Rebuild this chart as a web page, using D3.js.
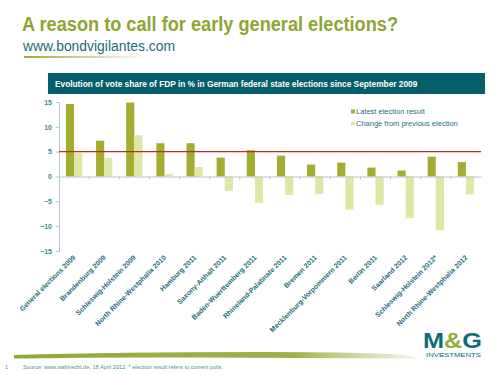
<!DOCTYPE html>
<html>
<head>
<meta charset="utf-8">
<script src="https://cdn.jsdelivr.net/npm/d3@7"></script>
<style>
  body { margin: 0; background: #fff; }
  svg { font-family: Arial, "Liberation Sans", sans-serif; }
</style>
</head>
<body>
<div class="chart"></div>
<script>
// data
const elections = ["General elections 2009", "Brandenburg 2009", "Schleswig-Holstein 2009",
    "North Rhine-Westphalia 2010", "Hamburg 2011", "Saxony-Anhalt 2011", "Baden-Wuerttemberg 2011",
    "Rhineland-Palatinate 2011", "Bremen 2011", "Mecklenburg-Vorpommern 2011", "Berlin 2011",
    "Saarland 2012", "Schleswig-Holstein 2012*", "North Rhine-Westphalia 2012"];
const latestResult = [14.6, 7.2, 14.9, 6.7, 6.7, 3.8, 5.3, 4.2, 2.4, 2.8, 1.8, 1.2, 4.0, 2.9];
const changePrev = [4.8, 3.8, 8.3, 0.5, 1.9, -2.9, -5.3, -3.7, -3.5, -6.7, -5.7, -8.4, -10.8, -3.6];
const yTicks = [15, 10, 5, 0, -5, -10, -15];
const threshold = 5;   // 5% hurdle line

const series = [
    {name: "Latest election result", values: latestResult, color: "#a3ae30"},
    {name: "Change from previous election", values: changePrev, color: "#dfe6a6"}
];

const width = 500;
const height = 375;
const margin = {top: 102, right: 19, bottom: 124, left: 59};
const teal = "#1f6f7c";

const svg = d3.select(".chart")
    .append("svg")
    .attr("width", width)
    .attr("height", height);

// title block
svg.append("text")
    .attr("x", 22).attr("y", 31)
    .attr("fill", "#8ea534")
    .attr("textLength", 376)
    .attr("lengthAdjust", "spacingAndGlyphs")
    .style("font-size", "20px")
    .style("font-weight", "bold")
    .text("A reason to call for early general elections?");

svg.append("text")
    .attr("x", 23).attr("y", 51)
    .attr("fill", "#1d6b78")
    .attr("textLength", 152)
    .attr("lengthAdjust", "spacingAndGlyphs")
    .style("font-size", "14px")
    .text("www.bondvigilantes.com");

const defs = svg.append("defs");
const fade = defs.append("linearGradient").attr("id", "fade");
fade.append("stop").attr("offset", "0%").attr("stop-color", "#9cae3c");
fade.append("stop").attr("offset", "100%").attr("stop-color", "#9cae3c").attr("stop-opacity", 0);
svg.append("rect")
    .attr("x", 24).attr("y", 56).attr("width", 125).attr("height", 2)
    .attr("fill", "url(#fade)");

// header bar
svg.append("rect")
    .attr("x", 48).attr("y", 73).attr("width", 437).attr("height", 21)
    .attr("fill", "#045f69");
svg.append("text")
    .attr("x", 55).attr("y", 87)
    .attr("fill", "white")
    .style("font-size", "8.3px")
    .style("font-weight", "bold")
    .text("Evolution of vote share of FDP in % in German federal state elections since September 2009");

// scales
const x = d3.scaleBand()
    .domain(elections)
    .range([margin.left, width - margin.right]);

const x1 = d3.scaleBand()
    .domain(series.map(s => s.name))
    .range([0, x.bandwidth()])
    .paddingInner(0)
    .paddingOuter(0.85);

const y = d3.scaleLinear()
    .domain([-15, 15])
    .range([height - margin.bottom, margin.top]);

// bars
series.forEach(s => {
    svg.append("g")
        .selectAll("rect")
        .data(s.values)
        .join("rect")
        .attr("x", (d, i) => x(elections[i]) + x1(s.name))
        .attr("y", d => y(Math.max(0, d)))
        .attr("width", x1.bandwidth())
        .attr("height", d => Math.abs(y(d) - y(0)))
        .attr("fill", s.color);
});

// y axis
const yAxis = svg.append("g")
    .attr("transform", `translate(${margin.left},0)`)
    .call(d3.axisLeft(y).tickValues(yTicks).tickSize(3).tickPadding(4));
yAxis.select(".domain").attr("stroke", "#b3c6ca");
yAxis.selectAll(".tick line").attr("stroke", "#b3c6ca");
yAxis.selectAll("text")
    .attr("fill", "#3a8794")
    .style("font-size", "7px")
    .style("font-weight", "bold");

// x axis at zero
const xAxis = svg.append("g")
    .attr("transform", `translate(0,${y(0)})`)
    .call(d3.axisBottom(x).tickSize(0).tickFormat(""));
xAxis.select(".domain").attr("stroke", "#b3c6ca");
xAxis.selectAll(".sep")
    .data(elections.slice(1))
    .join("line")
    .attr("class", "sep")
    .attr("x1", d => x(d)).attr("x2", d => x(d))
    .attr("y1", 0).attr("y2", 3)
    .attr("stroke", "#b3c6ca");

// category labels under the plot
svg.append("g")
    .selectAll("text")
    .data(elections)
    .join("text")
    .attr("transform", d => `translate(${x(d) + x.bandwidth() / 2 + 2},${y(-15) + 7}) rotate(-45)`)
    .attr("text-anchor", "end")
    .attr("fill", teal)
    .style("font-size", "7px")
    .style("font-weight", "bold")
    .text(d => d);

// 5% line
svg.append("line")
    .attr("x1", margin.left).attr("x2", width - margin.right)
    .attr("y1", y(threshold)).attr("y2", y(threshold))
    .attr("stroke", "#c3272b")
    .attr("stroke-width", 1.3);

// legend
const legend = svg.selectAll(".legend")
    .data(series)
    .join("g")
    .attr("class", "legend")
    .attr("transform", (d, i) => `translate(351, ${112 + i * 12})`);
legend.append("rect")
    .attr("x", 0).attr("y", -2.5)
    .attr("width", 4).attr("height", 4)
    .attr("fill", d => d.color);
legend.append("text")
    .attr("x", 5).attr("dy", "0.32em")
    .attr("fill", teal)
    .style("font-size", "7.5px")
    .text(d => d.name);

// footer brush stroke
const brush = defs.append("linearGradient").attr("id", "brush");
brush.append("stop").attr("offset", "0%").attr("stop-color", "#93a83a");
brush.append("stop").attr("offset", "70%").attr("stop-color", "#9fb24a");
brush.append("stop").attr("offset", "100%").attr("stop-color", "#b6c47a").attr("stop-opacity", 0.2);
svg.append("path")
    .attr("d", "M14,355 Q120,352 260,352 T415,357 L415,358.5 Q300,358 200,357.5 T14,358.5 Z")
    .attr("fill", "url(#brush)");

svg.append("text")
    .attr("x", 5).attr("y", 369)
    .attr("fill", "#4c8f99")
    .style("font-size", "5.5px")
    .text("1");
svg.append("text")
    .attr("x", 23).attr("y", 369)
    .attr("fill", "#4c8f99")
    .attr("textLength", 200)
    .attr("lengthAdjust", "spacingAndGlyphs")
    .style("font-size", "6px")
    .text("Source: www.wahlrecht.de, 18 April 2012. * election result refers to current polls.");

// M&G logo
const logo = svg.append("g").attr("transform", "translate(423,348)");
logo.append("text")
    .attr("x", 0).attr("y", 0)
    .attr("fill", "#0f6b76")
    .attr("textLength", 59)
    .attr("lengthAdjust", "spacingAndGlyphs")
    .style("font-size", "22px")
    .style("font-weight", "900")
    .text("M")
    .append("tspan").attr("fill", "#95ae3a").text("&")
    .append("tspan").attr("fill", "#0f6b76").text("G");
logo.append("text")
    .attr("x", 3).attr("y", 9)
    .attr("fill", "#0f6b76")
    .attr("textLength", 55)
    .attr("lengthAdjust", "spacingAndGlyphs")
    .style("font-size", "5.5px")
    .text("INVESTMENTS");
</script>
</body>
</html>
